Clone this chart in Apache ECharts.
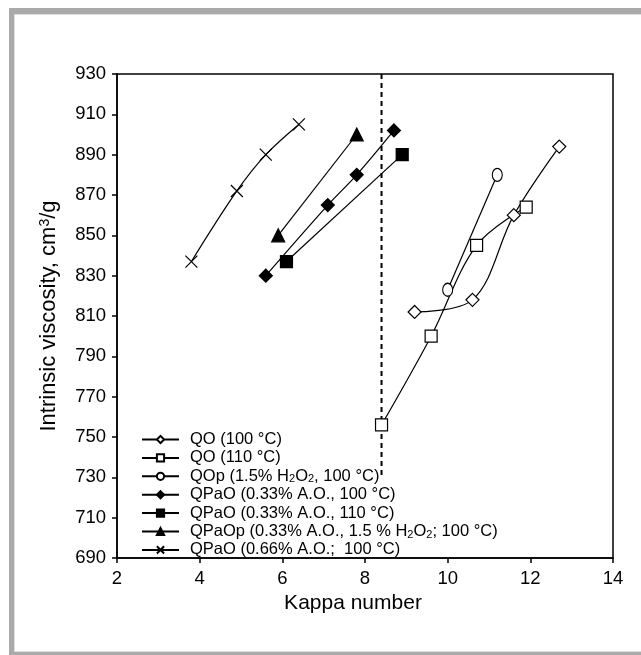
<!DOCTYPE html>
<html>
<head>
<meta charset="utf-8">
<script src="https://cdn.jsdelivr.net/npm/echarts@6/dist/echarts.min.js"></script>
<style>html,body{margin:0;padding:0;background:#fff;}#c{width:641px;height:655px;}</style>
</head>
<body>
<div id="c"></div>
<script>
// ---- data ----
const seriesNames = [
  'QO (100 °C)',
  'QO (110 °C)',
  'QOp (1.5% H2O2, 100 °C)',
  'QPaO (0.33% A.O., 100 °C)',
  'QPaO (0.33% A.O., 110 °C)',
  'QPaOp (0.33% A.O., 1.5 % H2O2; 100 °C)',
  'QPaO (0.66% A.O.;  100 °C)'
];
const qo100X = [9.2, 10.6, 11.6, 12.7];
const qo100Y = [812, 818, 860, 894];
const qo110X = [8.4, 9.6, 10.7, 11.9];
const qo110Y = [756, 800, 845, 864];
const qopX = [10.0, 11.2];
const qopY = [823, 880];
const qpao100X = [5.6, 7.1, 7.8, 8.7];
const qpao100Y = [830, 865, 880, 902];
const qpao110X = [6.1, 8.9];
const qpao110Y = [837, 890];
const qpaopX = [5.9, 7.8];
const qpaopY = [850, 900];
const qpao066X = [3.8, 4.9, 5.6, 6.4];
const qpao066Y = [837, 872, 890, 905];
const refLineX = [8.4, 8.4];
const refLineY = [930, 730];
const xTicks = [2, 4, 6, 8, 10, 12, 14];
const yTicks = [690, 710, 730, 750, 770, 790, 810, 830, 850, 870, 890, 910, 930];

const pairs = (xs, ys) => xs.map((x, i) => [x, ys[i]]);
const FONT = 'Liberation Sans';
const crossPath = 'path://M0,0L10,10M10,0L0,10';

function mk(name, xs, ys, symbol, size, fill, smooth) {
  return {
    name: name, type: 'line', data: pairs(xs, ys), smooth: smooth ? 0.35 : false,
    symbol: symbol, symbolSize: size, showSymbol: true,
    lineStyle: { color: '#000', width: 1.2 },
    itemStyle: { color: fill, borderColor: '#000', borderWidth: 1.2 },
    emphasis: { disabled: true }, z: 3
  };
}

const chart = echarts.init(document.getElementById('c'), null, { renderer: 'canvas' });
chart.setOption({
  animation: false,
  backgroundColor: '#fff',
  textStyle: { fontFamily: FONT },
  graphic: [
    { type: 'rect', shape: { x: 9, y: 8, width: 640, height: 650 }, style: { fill: '#aaaaaa' }, z: -10, silent: true },
    { type: 'rect', shape: { x: 14, y: 14, width: 640, height: 638 }, style: { fill: '#dddddd' }, z: -9, silent: true },
    { type: 'rect', shape: { x: 15, y: 15, width: 640, height: 636 }, style: { fill: '#ffffff' }, z: -8, silent: true }
  ],
  grid: { left: 117, top: 74, right: 28, bottom: 97, show: true, borderColor: '#000', borderWidth: 1.5, backgroundColor: 'transparent' },
  xAxis: {
    type: 'value', min: xTicks[0], max: xTicks[xTicks.length - 1], interval: 2,
    name: 'Kappa number', nameLocation: 'middle', nameGap: 33,
    nameTextStyle: { fontSize: 21, color: '#000', fontFamily: FONT, padding: [0, 24, 0, 0] },
    axisLine: { show: true, lineStyle: { color: '#000', width: 1.5 } },
    axisTick: { show: true, inside: false, length: 5, lineStyle: { color: '#000', width: 1.5 } },
    axisLabel: { fontSize: 18.5, color: '#000', margin: 11, fontFamily: FONT },
    splitLine: { show: false }
  },
  yAxis: {
    type: 'value', min: yTicks[0], max: yTicks[yTicks.length - 1], interval: 20,
    name: 'Intrinsic viscosity, cm{sup|3}/g', nameLocation: 'middle', nameGap: 57, nameRotate: 90,
    nameTextStyle: { fontSize: 22, color: '#000', fontFamily: FONT,
      rich: { sup: { fontSize: 14, color: '#000', verticalAlign: 'top', fontFamily: FONT } } },
    axisLine: { show: true, lineStyle: { color: '#000', width: 1.5 } },
    axisTick: { show: true, inside: false, length: 5, lineStyle: { color: '#000', width: 1.5 } },
    axisLabel: { fontSize: 18.5, color: '#000', margin: 11, fontFamily: FONT },
    splitLine: { show: false }
  },
  legend: {
    data: seriesNames, orient: 'vertical', left: 141, top: 431, padding: 0,
    itemWidth: 37, itemHeight: 9, itemGap: 1.4,
    formatter: n => n.replace(/H2O2/g, 'H{sub|2}O{sub|2}'),
    textStyle: { fontSize: 16.5, color: '#000', fontFamily: FONT, lineHeight: 16, padding: [0, 0, 0, 6],
      rich: { sub: { fontSize: 11, color: '#000', fontFamily: FONT, padding: [6, 0, 0, 0], lineHeight: 11 } } },
    selectedMode: false
  },
  series: [
    mk(seriesNames[0], qo100X, qo100Y, 'diamond', 13, '#fff', true),
    mk(seriesNames[1], qo110X, qo110Y, 'rect', 12, '#fff', true),
    mk(seriesNames[2], qopX, qopY, 'circle', [10, 13], '#fff', false),
    mk(seriesNames[3], qpao100X, qpao100Y, 'diamond', 13, '#000', true),
    mk(seriesNames[4], qpao110X, qpao110Y, 'rect', 12, '#000', false),
    mk(seriesNames[5], qpaopX, qpaopY, 'triangle', 13, '#000', false),
    mk(seriesNames[6], qpao066X, qpao066Y, crossPath, 12, '#000', true),
    {
      name: 'ref', type: 'line', data: pairs(refLineX, refLineY), symbol: 'none',
      lineStyle: { color: '#000', width: 2, type: [5, 4] }, z: 2, emphasis: { disabled: true }
    }
  ]
});
</script>
</body>
</html>
